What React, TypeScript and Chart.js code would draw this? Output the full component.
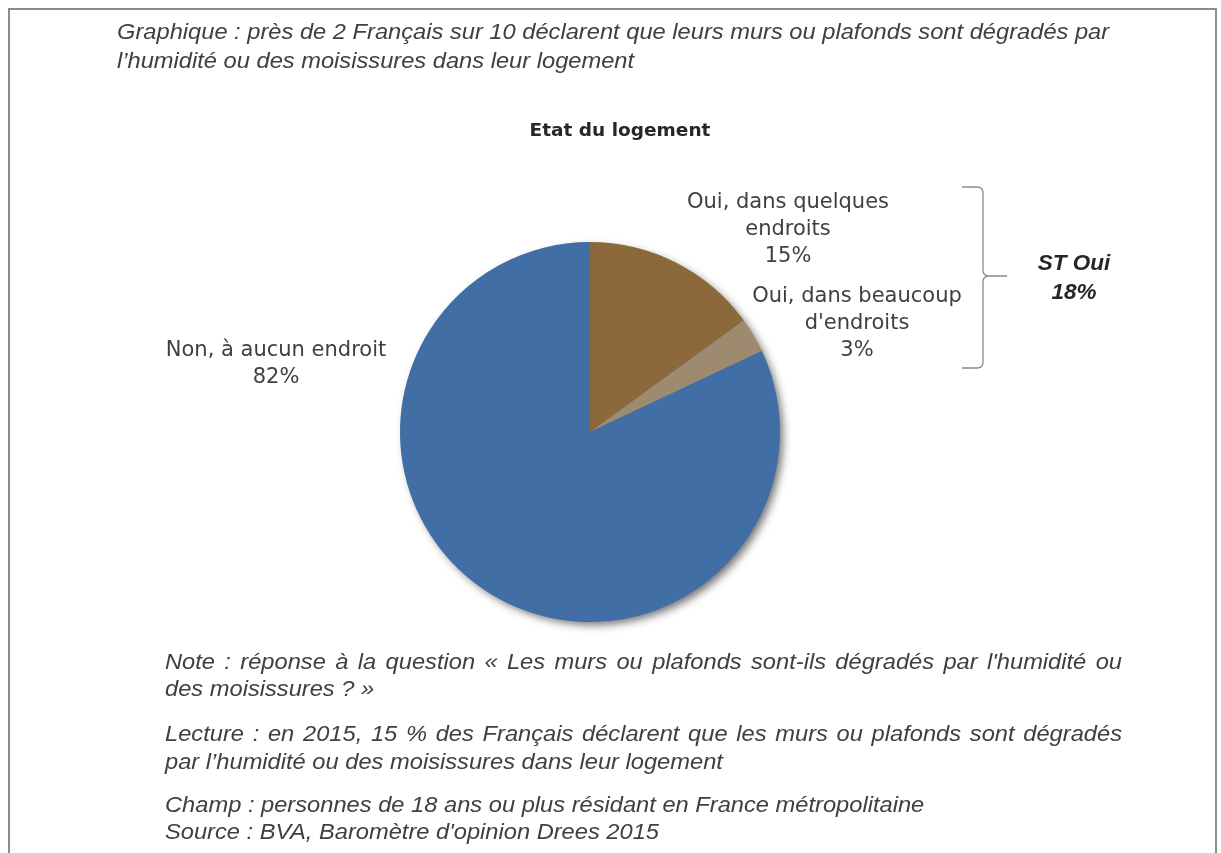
import React, { useEffect, useRef } from "react";
import { Chart, registerables } from "chart.js";

Chart.register(...registerables);

// ---- data ----
const categories = ["Oui, dans quelques endroits", "Oui, dans beaucoup d'endroits", "Non, à aucun endroit"];
const labelLines = [["Oui, dans quelques", "endroits"], ["Oui, dans beaucoup", "d'endroits"], ["Non, à aucun endroit"]];
const values = [15, 3, 82];
const subtotalLabel = "ST Oui";
const subtotalValue = 18;
const chartTitle = "Etat du logement";
const headline = [
  "Graphique : près de 2 Français sur 10 déclarent que leurs murs ou plafonds sont dégradés par",
  "l’humidité ou des moisissures dans leur logement",
];
const noteLines = [
  "Note : réponse à la question « Les murs ou plafonds sont-ils dégradés par l'humidité ou",
  "des moisissures ? »",
];
const lectureLines = [
  "Lecture : en 2015, 15 % des Français déclarent que les murs ou plafonds sont dégradés",
  "par l’humidité ou des moisissures dans leur logement",
];
const sourceLines = [
  "Champ : personnes de 18 ans ou plus résidant en France métropolitaine",
  "Source : BVA, Baromètre d'opinion Drees 2015",
];

// ---- styles ----
const colors = ["#8B693A", "#9E8A6E", "#416FA5"];
const labelAnchors = [
  { x: 788, y: 203 },
  { x: 857, y: 297 },
  { x: 276, y: 351 },
];
const labelFont = "21px Tahoma, 'DejaVu Sans', sans-serif";
const textColor = "#404040";

const pieDecor = {
  id: "pieDecor",
  beforeDatasetsDraw(chart: any) {
    const arc = chart.getDatasetMeta(0).data[0];
    if (!arc) return;
    const { x, y, outerRadius } = arc.getProps(["x", "y", "outerRadius"], true);
    const ctx = chart.ctx;
    ctx.save();
    ctx.shadowColor = "rgba(0,0,0,0.55)";
    ctx.shadowBlur = 9;
    ctx.shadowOffsetX = 4;
    ctx.shadowOffsetY = 4;
    ctx.beginPath();
    ctx.arc(x, y, outerRadius - 1, 0, Math.PI * 2);
    ctx.fillStyle = colors[2];
    ctx.fill();
    ctx.restore();
  },
  afterDraw(chart: any) {
    const ctx = chart.ctx;
    ctx.save();
    ctx.textAlign = "center";
    ctx.textBaseline = "middle";
    // chart title
    ctx.font = "bold 18.5px Tahoma, 'DejaVu Sans', sans-serif";
    ctx.fillStyle = "#262626";
    ctx.fillText(chartTitle, 620, 131);
    // data labels
    ctx.font = labelFont;
    ctx.fillStyle = textColor;
    const lh = 27;
    values.forEach((v, i) => {
      const lines = [...labelLines[i], v + "%"];
      const a = labelAnchors[i];
      lines.forEach((t, k) => ctx.fillText(t, a.x, a.y + k * lh));
    });
    // bracket
    ctx.strokeStyle = "#8a8a8a";
    ctx.lineWidth = 1.3;
    ctx.beginPath();
    const bx = 983, top = 187, bot = 368, mid = 276, r = 6;
    ctx.moveTo(962, top);
    ctx.lineTo(bx - r, top);
    ctx.quadraticCurveTo(bx, top, bx, top + r);
    ctx.lineTo(bx, mid - r);
    ctx.quadraticCurveTo(bx, mid, bx + r, mid);
    ctx.lineTo(1007, mid);
    ctx.moveTo(bx + r, mid);
    ctx.quadraticCurveTo(bx, mid, bx, mid + r);
    ctx.lineTo(bx, bot - r);
    ctx.quadraticCurveTo(bx, bot, bx - r, bot);
    ctx.lineTo(962, bot);
    ctx.stroke();
    // subtotal
    ctx.font = "italic bold 22.5px 'Liberation Sans', Arial, sans-serif";
    ctx.fillStyle = "#262626";
    ctx.fillText(subtotalLabel, 1074, 264);
    ctx.fillText(subtotalValue + "%", 1074, 293);
    ctx.restore();
  },
};

const SCALE = 1.076;
const textStyle: React.CSSProperties = {
  position: "absolute",
  fontFamily: "'Liberation Sans', Arial, sans-serif",
  fontStyle: "italic",
  fontSize: 22,
  color: "#404040",
  whiteSpace: "nowrap",
  margin: 0,
  transform: `scaleX(${SCALE})`,
  transformOrigin: "left top",
};

function Para({
  lines,
  left,
  top,
  lh,
  justifyWidth,
}: {
  lines: string[];
  left: number;
  top: number;
  lh: number;
  justifyWidth?: number;
}) {
  return (
    <div style={{ ...textStyle, left, top, lineHeight: lh + "px" }}>
      {lines.map((l, i) =>
        justifyWidth && i === 0 ? (
          <div
            key={i}
            style={{ width: justifyWidth / SCALE, textAlign: "justify", textAlignLast: "justify", whiteSpace: "normal" }}
          >
            {l}
          </div>
        ) : (
          <div key={i}>{l}</div>
        )
      )}
    </div>
  );
}

export default function App() {
  const ref = useRef<HTMLCanvasElement>(null);
  useEffect(() => {
    document.body.style.margin = "0";
    const chart = new Chart(ref.current!, {
      type: "pie",
      data: {
        labels: categories,
        datasets: [{ data: values, backgroundColor: colors, borderWidth: 0 }],
      },
      options: {
        animation: false,
        responsive: false,
        layout: { padding: { left: 400, right: 441, top: 242, bottom: 231 } },
        plugins: { legend: { display: false }, tooltip: { enabled: false } },
      },
      plugins: [pieDecor],
    });
    return () => chart.destroy();
  }, []);
  return (
    <div style={{ position: "relative", width: 1221, height: 853, background: "#fff", overflow: "hidden" }}>
      <div
        style={{
          position: "absolute",
          left: 8,
          top: 8,
          width: 1209,
          height: 860,
          border: "2px solid #8c8c8c",
          boxSizing: "border-box",
        }}
      />
      <canvas ref={ref} width={1221} height={853} style={{ position: "absolute", left: 0, top: 0 }} />
      <Para lines={headline} left={117} top={17} lh={29} />
      <Para lines={noteLines} left={165} top={648} lh={27} justifyWidth={957} />
      <Para lines={lectureLines} left={165} top={720} lh={28} justifyWidth={957} />
      <Para lines={sourceLines} left={165} top={791} lh={27} />
    </div>
  );
}
